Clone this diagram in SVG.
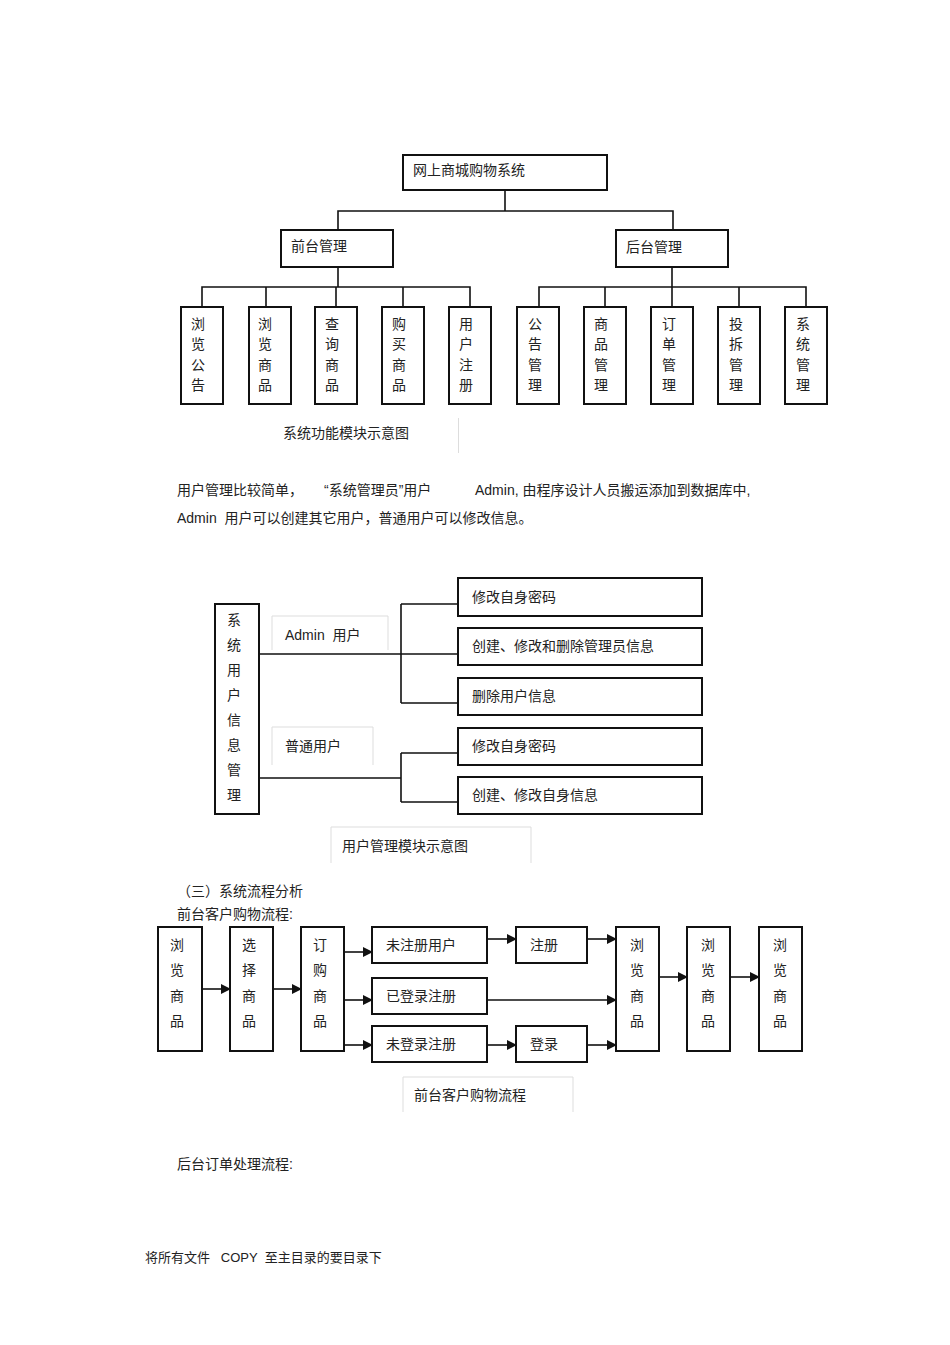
<svg xmlns="http://www.w3.org/2000/svg" width="950" height="1345" viewBox="0 0 950 1345">
<style>
text{font-family:"Liberation Sans","Noto Sans CJK SC",sans-serif;font-size:14px;fill:#222;white-space:pre}
.b{fill:#fff;stroke:#111;stroke-width:2}
.c{fill:none;stroke:#111;stroke-width:1.6}
.v{text-anchor:middle}
</style>
<defs><marker id="a" markerWidth="10" markerHeight="10" refX="9" refY="5" orient="auto" markerUnits="userSpaceOnUse"><path d="M0,0L10,5L0,10z" fill="#111"/></marker></defs>
<rect width="950" height="1345" fill="#fff"/>
<g id="connectors">
<path class="c" d="M505,190V211M338,230V211H673V230M338,267V287M202,307V287H470V307M266,287V307M336,287V307M403,287V307M672,267V287M539,307V287H806V307M605,287V307M672,287V307M739,287V307"/>
<path class="c" d="M259,654H458M401,604V703M401,604H458M401,703H458M259,778H401M401,753V802M401,753H458M401,802H458"/>
<g class="c" marker-end="url(#a)">
<path d="M202,989H230"/><path d="M273,989H301"/><path d="M344,952H372"/><path d="M344,1000H372"/><path d="M344,1045H372"/>
<path d="M487,939H516"/><path d="M587,939H616"/><path d="M487,1000H616"/><path d="M487,1045H516"/><path d="M587,1045H616"/>
<path d="M659,977H687"/><path d="M730,977H759"/>
</g>
</g>
<g id="n-root"><rect class="b" x="403" y="155" width="204" height="35"/><text x="413" y="175">网上商城购物系统</text></g>
<g id="n-front"><rect class="b" x="281" y="230" width="112" height="37"/><text x="291" y="251">前台管理</text></g>
<g id="n-back"><rect class="b" x="616" y="230" width="112" height="37"/><text x="626" y="252">后台管理</text></g>
<g id="n-t1"><rect class="b" x="181" y="307" width="42" height="97"/><text class="v" x="198" y="329">浏</text><text class="v" x="198" y="349">览</text><text class="v" x="198" y="370">公</text><text class="v" x="198" y="390">告</text></g>
<g id="n-t2"><rect class="b" x="249" y="307" width="42" height="97"/><text class="v" x="265" y="329">浏</text><text class="v" x="265" y="349">览</text><text class="v" x="265" y="370">商</text><text class="v" x="265" y="390">品</text></g>
<g id="n-t3"><rect class="b" x="315" y="307" width="42" height="97"/><text class="v" x="332" y="329">查</text><text class="v" x="332" y="349">询</text><text class="v" x="332" y="370">商</text><text class="v" x="332" y="390">品</text></g>
<g id="n-t4"><rect class="b" x="382" y="307" width="42" height="97"/><text class="v" x="399" y="329">购</text><text class="v" x="399" y="349">买</text><text class="v" x="399" y="370">商</text><text class="v" x="399" y="390">品</text></g>
<g id="n-t5"><rect class="b" x="449" y="307" width="42" height="97"/><text class="v" x="466" y="329">用</text><text class="v" x="466" y="349">户</text><text class="v" x="466" y="370">注</text><text class="v" x="466" y="390">册</text></g>
<g id="n-t6"><rect class="b" x="517" y="307" width="42" height="97"/><text class="v" x="535" y="329">公</text><text class="v" x="535" y="349">告</text><text class="v" x="535" y="370">管</text><text class="v" x="535" y="390">理</text></g>
<g id="n-t7"><rect class="b" x="584" y="307" width="42" height="97"/><text class="v" x="601" y="329">商</text><text class="v" x="601" y="349">品</text><text class="v" x="601" y="370">管</text><text class="v" x="601" y="390">理</text></g>
<g id="n-t8"><rect class="b" x="651" y="307" width="42" height="97"/><text class="v" x="669" y="329">订</text><text class="v" x="669" y="349">单</text><text class="v" x="669" y="370">管</text><text class="v" x="669" y="390">理</text></g>
<g id="n-t9"><rect class="b" x="718" y="307" width="42" height="97"/><text class="v" x="736" y="329">投</text><text class="v" x="736" y="349">拆</text><text class="v" x="736" y="370">管</text><text class="v" x="736" y="390">理</text></g>
<g id="n-t10"><rect class="b" x="785" y="307" width="42" height="97"/><text class="v" x="803" y="329">系</text><text class="v" x="803" y="349">统</text><text class="v" x="803" y="370">管</text><text class="v" x="803" y="390">理</text></g>
<line x1="458.5" y1="418" x2="458.5" y2="453" stroke="#ddd"/>
<text x="283" y="438">系统功能模块示意图</text>
<text x="177" y="495">用户管理比较简单，</text>
<text x="324" y="495">“系统管理员”用户</text>
<text x="475" y="495">Admin, 由程序设计人员搬运添加到数据库中,</text>
<text x="177" y="523">Admin  用户可以创建其它用户，普通用户可以修改信息。</text>
<g id="n-sys"><rect class="b" x="215" y="604" width="44" height="210"/><text class="v" x="234" y="625">系</text><text class="v" x="234" y="650">统</text><text class="v" x="234" y="675">用</text><text class="v" x="234" y="700">户</text><text class="v" x="234" y="725">信</text><text class="v" x="234" y="750">息</text><text class="v" x="234" y="775">管</text><text class="v" x="234" y="800">理</text></g>
<g id="n-admin"><path d="M272,650V616H388V650" fill="none" stroke="#ddd"/><text x="285" y="640">Admin  用户</text></g>
<g id="n-normal"><path d="M272,765V727H373V765" fill="none" stroke="#ddd"/><text x="285" y="751">普通用户</text></g>
<g id="n-m1"><rect class="b" x="458" y="578" width="244" height="38"/><text x="472" y="602">修改自身密码</text></g>
<g id="n-m2"><rect class="b" x="458" y="628" width="244" height="37"/><text x="472" y="651">创建、修改和删除管理员信息</text></g>
<g id="n-m3"><rect class="b" x="458" y="678" width="244" height="37"/><text x="472" y="701">删除用户信息</text></g>
<g id="n-m4"><rect class="b" x="458" y="728" width="244" height="37"/><text x="472" y="751">修改自身密码</text></g>
<g id="n-m5"><rect class="b" x="458" y="777" width="244" height="37"/><text x="472" y="800">创建、修改自身信息</text></g>
<path d="M331,863V827H531V863" fill="none" stroke="#ddd"/>
<text x="342" y="851">用户管理模块示意图</text>
<text x="177" y="896">（三）系统流程分析</text>
<text x="177" y="919">前台客户购物流程:</text>
<g id="n-f1"><rect class="b" x="158" y="927" width="44" height="124"/><text class="v" x="177" y="950">浏</text><text class="v" x="177" y="975">览</text><text class="v" x="177" y="1001">商</text><text class="v" x="177" y="1026">品</text></g>
<g id="n-f2"><rect class="b" x="230" y="927" width="43" height="124"/><text class="v" x="249" y="950">选</text><text class="v" x="249" y="975">择</text><text class="v" x="249" y="1001">商</text><text class="v" x="249" y="1026">品</text></g>
<g id="n-f3"><rect class="b" x="301" y="927" width="43" height="124"/><text class="v" x="320" y="950">订</text><text class="v" x="320" y="975">购</text><text class="v" x="320" y="1001">商</text><text class="v" x="320" y="1026">品</text></g>
<g id="n-f4"><rect class="b" x="372" y="927" width="115" height="36"/><text x="386" y="950">未注册用户</text></g>
<g id="n-f5"><rect class="b" x="372" y="978" width="115" height="36"/><text x="386" y="1001">已登录注册</text></g>
<g id="n-f6"><rect class="b" x="372" y="1026" width="115" height="36"/><text x="386" y="1049">未登录注册</text></g>
<g id="n-f7"><rect class="b" x="516" y="927" width="71" height="36"/><text x="530" y="950">注册</text></g>
<g id="n-f8"><rect class="b" x="516" y="1026" width="71" height="36"/><text x="530" y="1049">登录</text></g>
<g id="n-f9"><rect class="b" x="616" y="927" width="43" height="124"/><text class="v" x="637" y="950">浏</text><text class="v" x="637" y="975">览</text><text class="v" x="637" y="1001">商</text><text class="v" x="637" y="1026">品</text></g>
<g id="n-f10"><rect class="b" x="687" y="927" width="43" height="124"/><text class="v" x="708" y="950">浏</text><text class="v" x="708" y="975">览</text><text class="v" x="708" y="1001">商</text><text class="v" x="708" y="1026">品</text></g>
<g id="n-f11"><rect class="b" x="759" y="927" width="43" height="124"/><text class="v" x="780" y="950">浏</text><text class="v" x="780" y="975">览</text><text class="v" x="780" y="1001">商</text><text class="v" x="780" y="1026">品</text></g>
<path d="M403,1112V1077H573V1112" fill="none" stroke="#ddd"/>
<text x="414" y="1100">前台客户购物流程</text>
<text x="177" y="1169">后台订单处理流程:</text>
<text x="145" y="1262" style="font-size:13px">将所有文件   COPY  至主目录的要目录下</text>
</svg>
